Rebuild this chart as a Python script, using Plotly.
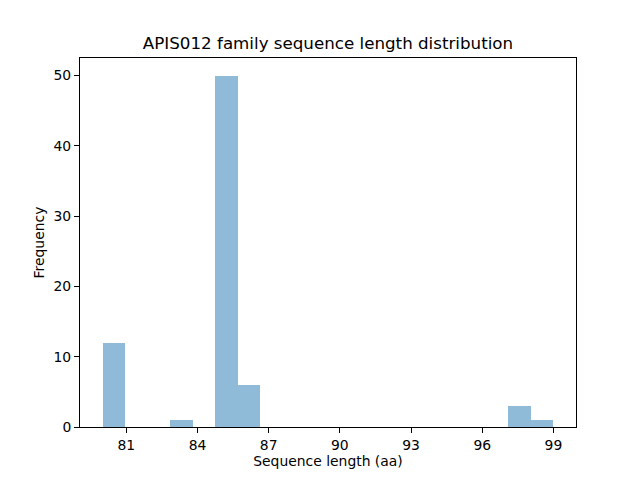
import numpy as np
import plotly.graph_objects as go

# sequence lengths (aa) and how many sequences have each length
lengths = [80, 83, 85, 86, 98, 99]
counts = [12, 1, 50, 6, 3, 1]

values = np.repeat(lengths, counts)
hist, edges = np.histogram(values, bins=20)
centers = (edges[:-1] + edges[1:]) / 2
width = edges[1] - edges[0]

fig = go.Figure()
fig.add_trace(go.Bar(x=centers, y=hist, width=width,
                     marker=dict(color="rgba(31,119,180,0.5)", line=dict(width=0))))

# page body has an 8px margin, so margins are shifted by that much
font = "DejaVu Sans, sans-serif"
fig.update_layout(
    width=640, height=480,
    plot_bgcolor="white", paper_bgcolor="white",
    margin=dict(l=72, r=72, t=50, b=61),
    showlegend=False, bargap=0,
    font=dict(family=font, size=13.9, color="black"),
    title=dict(text="APIS012 family sequence length distribution",
               x=0.5, xref="paper", xanchor="center",
               y=1 - 35 / 480, yanchor="middle",
               font=dict(size=16.7, family=font)),
)
rng = edges[-1] - edges[0]
fig.update_xaxes(range=[edges[0] - 0.05 * rng, edges[-1] + 0.05 * rng],
                 tickvals=list(range(81, 100, 3)),
                 showline=True, linecolor="black", linewidth=1, mirror=True,
                 ticks="outside", ticklen=5, tickcolor="black",
                 showgrid=False, zeroline=False,
                 title=dict(text="Sequence length (aa)", standoff=3,
                            font=dict(size=13.9)))
fig.update_yaxes(range=[0, max(hist) * 1.05],
                 tickvals=[0, 10, 20, 30, 40, 50],
                 showline=True, linecolor="black", linewidth=1, mirror=True,
                 ticks="outside", ticklen=5, tickcolor="black",
                 showgrid=False, zeroline=False,
                 title=dict(text="Frequency", standoff=5,
                            font=dict(size=13.9)))

fig.write_html("out.html")
